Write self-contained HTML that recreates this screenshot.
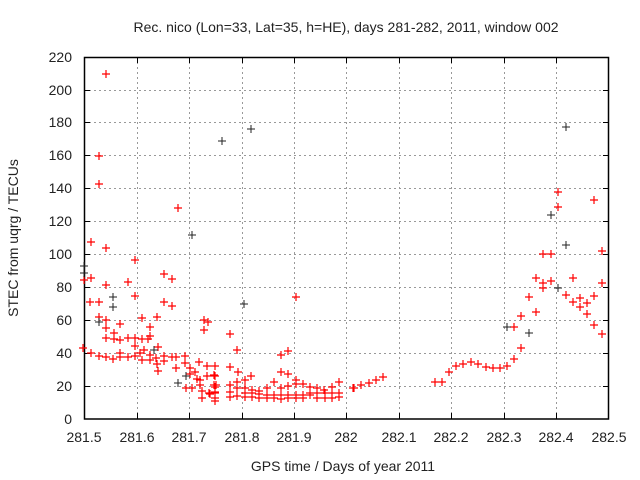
<!DOCTYPE html>
<html><head><style>
html,body{margin:0;padding:0;background:#fff;}
svg{display:block;font-family:"Liberation Sans",sans-serif;}
</style></head><body>
<svg width="640" height="480" xmlns="http://www.w3.org/2000/svg">
<rect width="640" height="480" fill="#fff"/>
<g stroke="#999" stroke-dasharray="2,3" stroke-width="1">
<path d="M84 386.5H609M84 353.5H609M84 320.5H609M84 287.5H609M84 254.5H609M84 221.5H609M84 188.5H609M84 155.5H609M84 122.5H609M84 90.5H609"/>
<path d="M137.5 57V419M189.5 57V419M242.5 57V419M294.5 57V419M346.5 57V419M399.5 57V419M451.5 57V419M504.5 57V419M556.5 57V419"/>
</g>
<rect x="84.5" y="57.5" width="524" height="361.5" fill="none" stroke="#000" stroke-width="1.5"/>
<g stroke="#000" stroke-width="1">
<path d="M84 386.5h6M84 353.5h6M84 320.5h6M84 287.5h6M84 254.5h6M84 221.5h6M84 188.5h6M84 155.5h6M84 122.5h6M84 90.5h6"/>
<path d="M609 386.5h-6M609 353.5h-6M609 320.5h-6M609 287.5h-6M609 254.5h-6M609 221.5h-6M609 188.5h-6M609 155.5h-6M609 122.5h-6M609 90.5h-6"/>
<path d="M137.5 419v-6M189.5 419v-6M242.5 419v-6M294.5 419v-6M346.5 419v-6M399.5 419v-6M451.5 419v-6M504.5 419v-6M556.5 419v-6"/>
<path d="M137.5 57v6M189.5 57v6M242.5 57v6M294.5 57v6M346.5 57v6M399.5 57v6M451.5 57v6M504.5 57v6M556.5 57v6"/>
</g>
<g font-size="14" fill="#222" text-anchor="end">
<text x="72" y="424">0</text><text x="72" y="391">20</text><text x="72" y="358">40</text><text x="72" y="325">60</text><text x="72" y="292">80</text><text x="72" y="259">100</text><text x="72" y="226">120</text><text x="72" y="193">140</text><text x="72" y="160">160</text><text x="72" y="127">180</text><text x="72" y="95">200</text><text x="72" y="62">220</text>
</g>
<g font-size="14" fill="#222" text-anchor="middle">
<text x="84" y="442">281.5</text><text x="137" y="442">281.6</text><text x="189" y="442">281.7</text><text x="242" y="442">281.8</text><text x="294" y="442">281.9</text><text x="346" y="442">282</text><text x="399" y="442">282.1</text><text x="451" y="442">282.2</text><text x="504" y="442">282.3</text><text x="609" y="442">282.5</text><text x="556" y="442">282.4</text>
<text x="343" y="471">GPS time / Days of year 2011</text>
<text x="346" y="32">Rec. nico (Lon=33, Lat=35, h=HE), days 281-282, 2011, window 002</text>
<text transform="translate(18,238) rotate(-90)">STEC from uqrg / TECUs</text>
</g>
<path fill="none" stroke="#f00" stroke-width="1.2" d="
M102 74h8M106 70v8 M95 156h8M99 152v8 M95 184h8M99 180v8 M87 242h8M91 238v8 M102 248h8M106 244v8 M124 282h8M128 278v8 M131 260h8M135 256v8 M160 274h8M164 270v8 M168 279h8M172 275v8 M174 208h8M178 204v8 M226 334h8M230 330v8 M233 350h8M237 346v8 M292 297h8M296 293v8
M80 280h8M84 276v8 M87 278h8M91 274v8 M102 285h8M106 281v8 M86 302h8M90 298v8 M95 302h8M99 298v8 M131 296h8M135 292v8 M160 302h8M164 298v8 M168 306h8M172 302v8 M95 317h8M99 313v8 M102 320h8M106 316v8 M102 328h8M106 324v8 M116 324h8M120 320v8 M138 318h8M142 314v8 M153 317h8M157 313v8 M146 327h8M150 323v8 M146 336h8M150 332v8 M102 338h8M106 334v8 M110 333h8M114 329v8 M110 339h8M114 335v8 M116 340h8M120 336v8 M124 338h8M128 334v8 M131 338h8M135 334v8 M144 339h8M148 335v8
M79 348h8M83 344v8 M87 353h8M91 349v8 M95 356h8M99 352v8 M102 357h8M106 353v8 M109 359h8M113 355v8 M116 353h8M120 349v8 M116 357h8M120 353v8 M124 357h8M128 353v8 M131 356h8M135 352v8 M136 353h8M140 349v8 M140 350h8M144 346v8 M131 346h8M135 342v8 M138 339h8M142 335v8 M138 360h8M142 356v8 M146 360h8M150 356v8 M146 355h8M150 351v8 M152 358h8M156 354v8 M153 364h8M157 360v8 M154 347h8M158 343v8 M154 371h8M158 367v8 M160 356h8M164 352v8 M160 361h8M164 357v8 M168 357h8M172 353v8 M172 357h8M176 353v8 M172 368h8M176 364v8 M181 356h8M185 352v8 M181 363h8M185 359v8 M186 368h8M190 364v8 M186 374h8M190 370v8 M191 372h8M195 368v8 M195 362h8M199 358v8 M193 379h8M197 375v8 M196 385h8M200 381v8 M203 366h8M207 362v8 M203 376h8M207 372v8 M210 385h8M214 381v8 M210 375h8M214 371v8 M205 393h8M209 389v8 M211 401h8M215 397v8 M182 388h8M186 384v8 M188 388h8M192 384v8 M196 380h8M200 376v8 M198 391h8M202 387v8 M198 398h8M202 394v8 M206 394h8M210 390v8 M211 392h8M215 388v8 M212 385h8M216 381v8 M200 320h8M204 316v8 M200 330h8M204 326v8 M204 322h8M208 318v8
M211 366h8M215 362v8 M211 376h8M215 372v8 M226 367h8M230 363v8 M234 372h8M238 368v8 M247 376h8M251 372v8 M277 355h8M281 351v8 M284 351h8M288 347v8 M277 372h8M281 368v8 M284 374h8M288 370v8 M292 380h8M296 376v8 M292 384h8M296 380v8 M299 384h8M303 380v8 M306 387h8M310 383v8 M313 388h8M317 384v8 M320 390h8M324 386v8 M328 387h8M332 383v8 M335 382h8M339 378v8 M350 388h8M354 384v8 M270 382h8M274 378v8 M277 388h8M281 384v8 M284 386h8M288 382v8 M263 388h8M267 384v8 M255 391h8M259 387v8 M248 390h8M252 386v8 M241 380h8M245 376v8 M241 388h8M245 384v8 M233 382h8M237 378v8 M233 388h8M237 384v8 M226 385h8M230 381v8 M226 392h8M230 388v8 M226 397h8M230 393v8 M211 387h8M215 383v8 M211 393h8M215 389v8 M211 398h8M215 394v8 M233 396h8M237 392v8 M241 397h8M245 393v8 M248 397h8M252 393v8 M255 398h8M259 394v8 M263 398h8M267 394v8 M270 398h8M274 394v8 M277 399h8M281 395v8 M284 398h8M288 394v8 M292 398h8M296 394v8 M299 398h8M303 394v8 M306 395h8M310 391v8 M313 398h8M317 394v8 M321 398h8M325 394v8 M328 398h8M332 394v8 M335 393h8M339 389v8 M335 397h8M339 393v8 M328 393h8M332 389v8 M321 393h8M325 389v8 M313 393h8M317 389v8 M306 393h8M310 389v8 M299 395h8M303 391v8 M292 395h8M296 391v8 M284 395h8M288 391v8 M277 395h8M281 391v8 M270 395h8M274 391v8 M263 395h8M267 391v8 M255 394h8M259 390v8 M248 393h8M252 389v8 M241 393h8M245 389v8
M349 388h8M353 384v8 M357 385h8M361 381v8 M365 383h8M369 379v8 M372 380h8M376 376v8 M379 377h8M383 373v8
M431 382h8M435 378v8 M438 382h8M442 378v8 M445 372h8M449 368v8 M452 366h8M456 362v8 M459 364h8M463 360v8 M467 362h8M471 358v8 M474 364h8M478 360v8 M482 367h8M486 363v8 M489 368h8M493 364v8 M496 368h8M500 364v8 M503 366h8M507 362v8 M510 359h8M514 355v8 M517 348h8M521 344v8 M510 327h8M514 323v8 M517 316h8M521 312v8 M525 297h8M529 293v8 M532 312h8M536 308v8 M532 278h8M536 274v8 M539 283h8M543 279v8 M539 288h8M543 284v8 M547 281h8M551 277v8 M539 254h8M543 250v8 M547 254h8M551 250v8 M554 207h8M558 203v8 M554 192h8M558 188v8 M562 295h8M566 291v8 M569 278h8M573 274v8 M569 302h8M573 298v8 M576 298h8M580 294v8 M576 307h8M580 303v8 M583 303h8M587 299v8 M583 314h8M587 310v8 M590 296h8M594 292v8 M590 325h8M594 321v8 M598 334h8M602 330v8 M598 283h8M602 279v8 M598 251h8M602 247v8 M590 200h8M594 196v8"/>
<path fill="none" stroke="#222" stroke-width="1" d="
M80 273h8M84 269v8 M109 297h8M113 293v8 M109 307h8M113 303v8 M188 235h8M192 231v8 M218 141h8M222 137v8 M247 129h8M251 125v8 M240 304h8M244 300v8 M95 322h8M99 318v8 M174 383h8M178 379v8 M182 376h8M186 372v8 M80 266h8M84 262v8 M150 350h8M154 346v8
M503 327h8M507 323v8 M525 333h8M529 329v8 M547 215h8M551 211v8 M562 127h8M566 123v8 M562 245h8M566 241v8 M554 288h8M558 284v8"/>
</svg>
</body></html>
